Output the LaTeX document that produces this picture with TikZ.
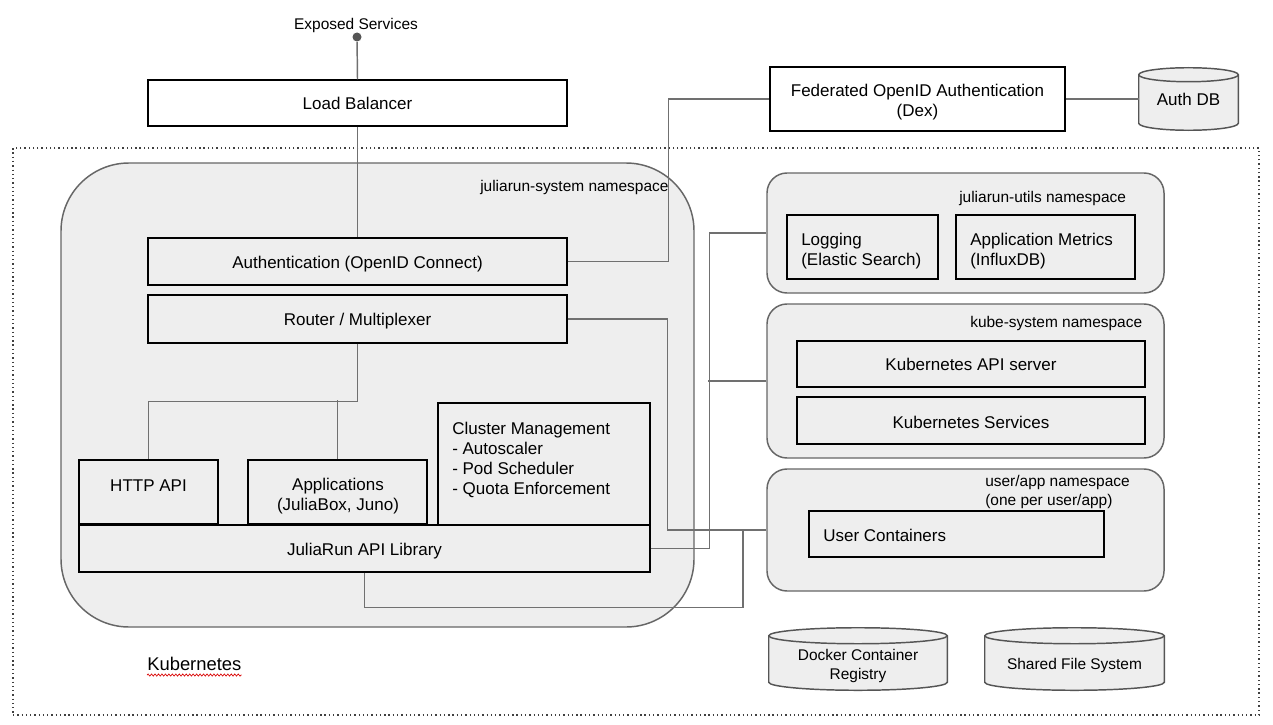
\documentclass[tikz,border=0pt]{standalone}
\usepackage{fontspec}
\setmainfont{Liberation Sans}
\usetikzlibrary{calc,decorations.pathmorphing}
\definecolor{boxgray}{HTML}{EEEEEE}
\definecolor{edgegray}{HTML}{666666}
\definecolor{wiregray}{HTML}{707070}
\definecolor{cyledge}{HTML}{555555}
\newcommand\mylarge{\fontsize{12.75pt}{15pt}\selectfont}
\newcommand\mysmall{\fontsize{11.6pt}{14pt}\selectfont}
\newcommand\mykube{\fontsize{13.8pt}{16pt}\selectfont}
\newcommand\drawcyl[2]{%
 \path[fill=boxgray, draw=cyledge, line width=1.1pt] let \p1=(#1.north west), \p2=(#1.south east) in
  (\x1,\y1-#2) -- (\x1,\y2+#2) arc[start angle=180, end angle=360, x radius={(\x2-\x1)/2}, y radius=#2]
  -- (\x2,\y1-#2) arc[start angle=0, end angle=180, x radius={(\x2-\x1)/2}, y radius=#2] -- cycle;
 \draw[cyledge, line width=1.1pt] let \p1=(#1.north west), \p2=(#1.south east) in
  (\x1,\y1-#2) arc[start angle=180, end angle=360, x radius={(\x2-\x1)/2}, y radius=#2];
}
\begin{document}
\begin{tikzpicture}[x=0.75pt,y=-0.75pt,
 sz/.style 2 args={minimum width=#1*0.75pt, minimum height=#2*0.75pt},
 box/.style={draw=black,line width=1.1pt,fill=boxgray,inner sep=0pt},
 wbox/.style={draw=black,line width=1.1pt,fill=white,inner sep=0pt},
 ns/.style={draw=edgegray,line width=1.1pt,fill=boxgray,rounded corners=15pt,inner sep=0pt},
 wire/.style={draw=wiregray,line width=1.1pt},
 txt/.style={inner sep=0pt,font=\mylarge,yshift=-1.6pt},
 stxt/.style={inner sep=0pt,font=\mysmall,yshift=-1.6pt},
 ghost/.style={inner sep=0pt}
]
\fill[white] (0,0) rectangle (1273,724);
\useasboundingbox (0,0) rectangle (1273,724);

% Kubernetes frame
\node[draw=black!75, line width=1pt, dash pattern=on 1pt off 2.2pt, sz={1246}{567}, inner sep=0pt] (k8s) at (636,431.5) {};
\node[inner sep=0pt, font=\mykube, anchor=west] (klbl) at (147,664) {Kubernetes};
\draw[red!85!black, line width=0.5pt, decorate, decoration={snake, amplitude=0.8pt, segment length=2.6pt}]
  ($(klbl.south west)+(0,4)$) -- ($(klbl.south east)+(0,4)$);

% namespace containers
\node[ns, rounded corners=51pt, sz={633}{464}] (sys) at (377.5,395) {};
\node[ns, sz={397}{120}] (utils) at (965.5,233) {};
\node[ns, sz={397}{154}] (kube) at (965.5,381) {};
\node[ns, sz={397}{122}] (uapp) at (965.5,530) {};
\node[stxt, anchor=west] (syslbl) at (480,185) {juliarun-system namespace};
\node[stxt, anchor=west] (utilslbl) at (959,196) {juliarun-utils namespace};
\node[stxt, anchor=west] (kubelbl) at (970,321) {kube-system namespace};
\node[stxt, anchor=west, align=left] (uapplbl) at (985,490) {user/app namespace\\(one per user/app)};

% outer boxes
\node[circle, fill=cyledge, inner sep=0pt, minimum size=6.75pt] (exdot) at (357,37) {};
\node[stxt] (exlbl) at (356,23) {Exposed Services};
\node[wbox, sz={419}{46}] (lb) at (357.5,103) {};
\node[wbox, sz={295}{64}] (dex) at (917.5,99) {};
\node[ghost, sz={99}{62}] (authdb) at (1188.5,99) {};
\drawcyl{authdb}{5.25pt}
\node[inner sep=0pt, font=\mylarge] (authdbt) at (1188.5,99) {Auth DB};

% storage cylinders
\node[ghost, sz={178}{62}] (docker) at (858,659) {};
\drawcyl{docker}{6pt}
\node[stxt, align=center] (dockert) at (858,664) {Docker Container\\Registry};
\node[ghost, sz={179}{62}] (sfs) at (1074.5,659) {};
\drawcyl{sfs}{6pt}
\node[stxt] (sfst) at (1074.5,663.5) {Shared File System};

% juliarun-system boxes
\node[box, sz={419}{47}] (auth) at (357.5,261.5) {};
\node[box, sz={419}{48}] (router) at (357.5,319) {};
\node[box, sz={139}{64}] (http) at (148.5,492) {};
\node[box, sz={179}{64}] (apps) at (337.5,492) {};
\node[box, sz={212}{122}] (cluster) at (544,464) {};
\node[box, sz={571}{47}] (lib) at (364.5,548.5) {};

% utils / kube / user boxes
\node[box, sz={151}{64}] (logging) at (862.5,247) {};
\node[box, sz={179}{64}] (metrics) at (1045.5,247) {};
\node[box, sz={348}{46}] (kapi) at (971,364) {};
\node[box, sz={348}{47}] (ksvc) at (971,420.5) {};
\node[box, sz={295}{46}] (userc) at (956.5,534) {};

% connectors
\coordinate (uj) at (743,530);
\draw[wire] (exdot) -- (lb.north);
\draw[wire] (lb.south) -- (auth.north);
\draw[wire] (auth.east) -- ++(101,0) |- (dex.west);
\draw[wire] (dex.east) -- (authdb.west);
\draw[wire] (router.east) -- ++(100,0) |- (uapp.west);
\draw[wire] (lib.east) -- ++(59,0) |- (utils.west);
\draw[wire] (kube.west) -- ++(-58,0);
\draw[wire] (lib.south) -- ++(0,35) -| (uj);
\draw[wire] (router.south) -- ++(0,58) -| (http.north);
\draw[wire] (apps.north) -- ++(0,-59);

% texts
\node[inner sep=0pt, font=\mylarge] (lbt) at (357.5,103) {Load Balancer};
\node[txt, align=center] (dext) at (917.5,100) {Federated OpenID Authentication\\(Dex)};
\node[txt] (autht) at (auth) {Authentication (OpenID Connect)};
\node[txt] (routert) at (router) {Router / Multiplexer};
\node[txt] (httpt) at (148.5,484) {HTTP API};
\node[txt, align=center] (appst) at (338,494) {Applications\\(JuliaBox, Juno)};
\node[txt, align=left, anchor=west] (clustert) at (452,458) {Cluster Management\\- Autoscaler\\- Pod Scheduler\\- Quota Enforcement};
\node[txt] (libt) at (lib) {JuliaRun API Library};
\node[txt, align=left, anchor=west] (loggingt) at (801,249) {Logging\\(Elastic Search)};
\node[txt, align=left, anchor=west] (metricst) at (970,249) {Application Metrics\\(InfluxDB)};
\node[inner sep=0pt, font=\mylarge] (kapit) at (kapi) {Kubernetes API server};
\node[txt] (ksvct) at (ksvc) {Kubernetes Services};
\node[inner sep=0pt, font=\mylarge, anchor=west] (userct) at (823,535) {User Containers};
\end{tikzpicture}
\end{document}
